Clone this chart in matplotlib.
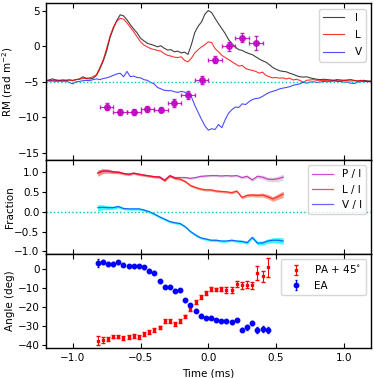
import numpy as np
import matplotlib
matplotlib.use('Agg')
import matplotlib.pyplot as plt

# --- top panel: RM curves, sampled every 0.025 ms from -1.2 to 1.2 ---
t_rm = np.arange(97) * 0.025 - 1.2
rm_I = [-4.8, -4.75, -4.6, -4.75, -4.8, -4.75, -4.8, -4.75, -4.8, -4.7,
        -4.6, -4.3, -4.55, -4.6, -4.5, -4.1, -3.2, -2.1, -0.7, 1.2,
        2.5, 3.6, 4.4, 4.25, 3.7, 3.0, 2.4, 1.85, 1.1, 0.75,
        0.4, 0.25, 0.1, -0.1, 0.05, -0.3, -0.55, -0.5, -0.8, -0.7,
        -0.95, -0.85, -1.15, 0.2, 1.9, 2.8, 3.4, 4.5, 5.0,
        4.7, 3.9, 3.15, 2.45, 1.75, 0.9, 0.35, -0.15, -0.5, -0.6,
        -0.85, -1.05, -1.2, -1.5, -1.8, -2.05, -2.25, -2.6, -3.0, -3.25,
        -3.45, -3.55, -3.6, -3.8, -3.95, -4.15, -4.3, -4.35, -4.3, -4.45,
        -4.55, -4.65, -4.7, -4.65, -4.7, -4.75, -4.8, -4.7, -4.75, -4.8,
        -4.75, -4.7, -4.8, -4.9, -4.85, -4.8, -4.9, -4.9]
rm_L = [-4.8, -4.85, -4.8, -4.8, -4.85, -4.8, -4.8, -4.75, -4.85, -4.7,
        -4.65, -4.55, -4.5, -4.45, -4.3, -4.0, -3.0, -1.9, -0.3, 1.4,
        2.7, 3.5, 3.9, 3.8, 3.25, 2.65, 2.0, 1.3, 0.6, 0.15,
        -0.1, -0.35, -0.47, -0.6, -0.7, -1.05, -1.3, -1.4, -1.55, -1.6,
        -1.5, -2.0, -2.2, -1.7, -0.95, -0.5, -0.1, 0.2, 0.6,
        0.5, -0.35, -0.8, -1.3, -1.6, -1.9, -2.2, -2.5, -2.8, -2.7,
        -3.15, -3.3, -3.4, -3.55, -3.8, -3.65, -4.1, -4.3, -4.45, -4.4,
        -4.5, -4.45, -4.6, -4.5, -4.75, -4.65, -4.8, -5.1, -4.8, -4.75,
        -4.7, -4.8, -4.8, -4.85, -4.8, -4.8, -4.8, -4.85, -4.9, -4.8,
        -4.85, -4.9, -4.85, -4.9, -4.8, -4.9, -4.95, -4.95]
rm_V = [-4.85, -4.9, -4.9, -4.95, -4.9, -4.95, -4.9, -5.1, -5.3, -5.0,
        -4.95, -4.85, -4.8, -4.85, -4.7, -4.6, -4.7, -4.55, -4.45, -4.3,
        -4.1, -3.9, -3.8, -4.3, -3.55, -4.3, -4.2, -4.4, -4.45, -4.7,
        -4.8, -5.1, -5.3, -5.8, -6.0, -6.2, -6.25, -6.25, -6.4, -6.5,
        -6.35, -6.45, -6.7, -7.1, -8.3, -9.3, -10.3, -11.2, -11.8,
        -11.6, -11.7, -11.0, -11.45, -10.3, -9.4, -8.9, -8.55, -8.6, -8.1,
        -8.2, -7.8, -7.5, -7.35, -7.3, -7.05, -6.75, -6.5, -6.35, -6.2,
        -6.0, -5.9, -5.8, -5.7, -5.5, -5.4, -5.3, -5.05, -5.2, -5.05,
        -5.0, -5.1, -5.05, -4.95, -5.0, -4.95, -4.9, -4.95, -4.95, -5.05,
        -5.05, -5.2, -5.25, -5.05, -5.0, -4.95, -4.95, -5.05]

# RM points with errors
t_pts = [-0.75, -0.65, -0.55, -0.45, -0.35, -0.25, -0.15, -0.05, 0.05, 0.15, 0.25, 0.35]
rm_pts = [-8.5, -9.2, -9.25, -8.85, -8.9, -8.0, -6.9, -4.75, -1.9, 0.0, 1.2, 0.45]
rm_pts_err = [0.5, 0.4, 0.4, 0.4, 0.4, 0.6, 0.55, 0.5, 0.45, 0.65, 0.65, 0.95]
t_pts_err = 0.05
rm_ref = -5.0

# --- middle panel: fractions ---
t_fr = np.arange(37) * 0.038 - 0.816
frac_P = [0.975, 1.03, 1.03, 1.0, 1.0, 0.965, 0.945, 0.97, 0.945, 0.92,
          0.90, 0.88, 0.88, 0.80, 0.91, 0.86, 0.86, 0.86, 0.84, 0.86,
          0.89, 0.90, 0.91, 0.91, 0.90, 0.91, 0.90, 0.91, 0.86, 0.89,
          0.80, 0.89, 0.87, 0.82, 0.81, 0.83, 0.87]
frac_L = [0.97, 1.02, 1.02, 1.0, 0.99, 0.96, 0.94, 0.97, 0.94, 0.92,
          0.90, 0.88, 0.87, 0.78, 0.90, 0.84, 0.82, 0.76, 0.66, 0.61,
          0.57, 0.55, 0.55, 0.52, 0.51, 0.50, 0.48, 0.52, 0.36, 0.41,
          0.42, 0.41, 0.42, 0.38, 0.32, 0.38, 0.44]
frac_V = [0.10, 0.11, 0.10, 0.10, 0.13, 0.08, 0.07, 0.07, 0.07, 0.04,
          0.0, -0.06, -0.13, -0.19, -0.25, -0.28, -0.30, -0.38, -0.50, -0.59,
          -0.66, -0.69, -0.72, -0.72, -0.74, -0.74, -0.72, -0.74, -0.75, -0.78,
          -0.65, -0.79, -0.79, -0.74, -0.72, -0.72, -0.74]
frac_err = [0.08, 0.06, 0.05, 0.04, 0.035, 0.03, 0.03, 0.03, 0.03, 0.03,
            0.03, 0.03, 0.03, 0.03, 0.03, 0.03, 0.03, 0.03, 0.03, 0.03,
            0.03, 0.03, 0.03, 0.03, 0.03, 0.03, 0.03, 0.03, 0.035, 0.04,
            0.04, 0.045, 0.05, 0.055, 0.06, 0.07, 0.08]

# --- bottom panel: angles ---
t_ang = np.arange(34) * 0.038 - 0.816
pa45 = [-37.5, -37.2, -36.7, -35.4, -35.4, -36.3, -35.8, -35.3, -35.8, -34.0,
        -33.2, -31.8, -30.6, -27.4, -27.1, -28.8, -27.4, -24.8, -21.0, -17.2,
        -14.4, -12.3, -10.3, -10.6, -10.3, -11.0, -11.0, -7.7, -8.5, -8.1,
        -8.5, -1.9, -3.7, 1.0]
pa45_err = [2.5, 1.5, 1.0, 1.0, 1.0, 1.0, 1.0, 1.0, 1.0, 1.0,
            1.0, 1.0, 1.0, 1.0, 1.0, 1.2, 1.0, 1.0, 1.0, 1.0,
            1.0, 1.0, 1.0, 1.0, 1.0, 1.5, 1.5, 1.8, 2.0, 2.0,
            1.8, 3.8, 3.0, 4.8]
ea = [3.3, 3.8, 2.8, 2.8, 3.8, 2.4, 1.5, 1.5, 1.5, 1.2,
      -0.7, -1.9, -6.3, -9.2, -9.2, -11.3, -11.1, -16.2, -19.0, -21.9,
      -24.5, -25.7, -25.4, -26.8, -27.4, -27.4, -28.0, -26.8, -31.8, -30.6,
      -28.3, -31.8, -31.4, -31.8]
ea_err = [2.2, 1.0, 0.8, 0.8, 0.8, 0.8, 0.8, 0.8, 0.8, 0.8,
          0.8, 0.8, 0.8, 0.8, 0.8, 0.8, 0.8, 0.8, 0.8, 0.8,
          0.8, 0.8, 0.8, 0.8, 0.8, 0.8, 0.8, 0.8, 0.8, 1.2,
          1.2, 1.5, 1.5, 1.5]

plt.rcParams['font.size'] = 7.5
plt.rcParams['axes.linewidth'] = 1.0

fig, axes = plt.subplots(3, 1, figsize=(3.74, 3.78), dpi=100, sharex=True,
                         gridspec_kw={'height_ratios': [5, 3, 3]})
fig.subplots_adjust(left=0.122, right=0.992, top=0.991, bottom=0.079, hspace=0)
ax1, ax2, ax3 = axes

# Top: RM
ax1.plot(t_rm, rm_I, color='k', lw=0.8, alpha=0.75, label='I')
ax1.plot(t_rm, rm_L, color='r', lw=0.8, alpha=0.8, label='L')
ax1.plot(t_rm, rm_V, color='b', lw=0.8, alpha=0.7, label='V')
ax1.axhline(rm_ref, color='c', ls=':', lw=1.0)
ax1.errorbar(t_pts, rm_pts, xerr=t_pts_err, yerr=rm_pts_err, fmt='o', color='m',
             ms=4, elinewidth=0.8, capsize=1.2, alpha=0.85)
ax1.set_ylim(-16, 6)
ax1.set_yticks([-15, -10, -5, 0, 5])
ax1.set_ylabel('RM (rad m$^{-2}$)')
ax1.legend(loc='upper right', handlelength=2.0, handletextpad=1.0,
           labelspacing=0.7, fontsize=7.5)

# Middle: fractions
ax2.fill_between(t_fr, np.array(frac_P) - frac_err, np.array(frac_P) + frac_err,
                 color='lightgray', alpha=0.8, lw=0)
ax2.fill_between(t_fr, np.array(frac_L) - frac_err, np.array(frac_L) + frac_err,
                 color='tomato', alpha=0.6, lw=0)
ax2.fill_between(t_fr, np.array(frac_V) - frac_err, np.array(frac_V) + frac_err,
                 color='aqua', alpha=0.8, lw=0)
ax2.plot(t_fr, frac_P, color='m', lw=0.9, alpha=0.7, label='P / I')
ax2.plot(t_fr, frac_L, color='r', lw=0.9, alpha=0.7, label='L / I')
ax2.plot(t_fr, frac_V, color='b', lw=0.9, alpha=0.6, label='V / I')
ax2.axhline(0, color='c', ls=':', lw=1.0)
ax2.set_ylim(-1.07, 1.3)
ax2.set_yticks([-1.0, -0.5, 0.0, 0.5, 1.0])
ax2.set_ylabel('Fraction')
ax2.legend(loc='upper right', handlelength=2.0, handletextpad=0.8, fontsize=7.5)

# Bottom: angles
ax3.errorbar(t_ang, pa45, yerr=pa45_err, fmt='s', color='r', ms=2.0,
             elinewidth=0.8, capsize=1.2, label='PA + 45$^{\\circ}$')
ax3.errorbar(t_ang, ea, yerr=ea_err, fmt='o', color='b', ms=3.2,
             elinewidth=0.8, capsize=1.0, label='EA')
ax3.set_ylim(-41.5, 8)
ax3.set_yticks([-40, -30, -20, -10, 0])
ax3.set_ylabel('Angle (deg)')
ax3.set_xlabel('Time (ms)')
ax3.set_xlim(-1.2, 1.2)
ax3.set_xticks([-1.0, -0.5, 0.0, 0.5, 1.0])
ax3.legend(loc='upper right', handletextpad=0.8, fontsize=7.5)

for ax in axes:
    ax.tick_params(axis='x', direction='in', top=True, bottom=True)
    ax.tick_params(axis='y', direction='out', right=False, length=3, pad=1.5)
    ax.yaxis.set_label_coords(-0.094, 0.5)

fig.savefig('out.png', dpi=100)
